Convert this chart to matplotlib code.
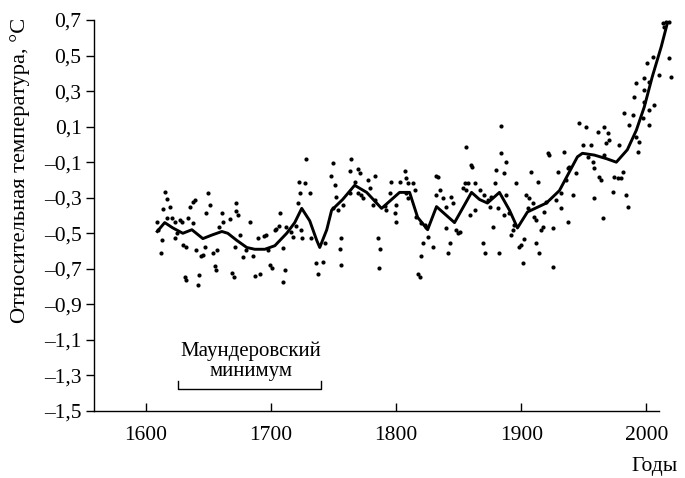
import matplotlib
matplotlib.use("Agg")
import matplotlib.pyplot as plt
import numpy as np

plt.rcParams['font.family'] = ['Liberation Serif', 'DejaVu Serif']

# Smoothed curve (year, relative temperature)
line_years = [1609, 1615, 1621.5, 1629.5, 1636.7, 1645.5, 1652.7, 1660.7, 1665.4, 1672.6,
              1680.6, 1687, 1695, 1703, 1712.5, 1718.9, 1724.5, 1730.9, 1736.5, 1738.9,
              1744.5, 1748.4, 1757.2, 1766.8, 1776.4, 1788.3, 1796.3, 1802.7, 1810.7, 1817.1,
              1825.1, 1832.2, 1846.6, 1860.2, 1866.6, 1872.9, 1882.5, 1890.5, 1896.9, 1904.9,
              1920, 1930.4, 1944.8, 1948.8, 1958.3, 1967.9, 1975.9, 1984.7, 1991.9, 1998.2,
              2004.6, 2011.8, 2016.6]
line_vals = [-0.49, -0.44, -0.47, -0.50, -0.48, -0.53, -0.51, -0.49, -0.50, -0.54,
             -0.58, -0.59, -0.59, -0.57, -0.50, -0.44, -0.36, -0.43, -0.54, -0.58,
             -0.48, -0.37, -0.31, -0.23, -0.27, -0.36, -0.31, -0.27, -0.27, -0.41,
             -0.48, -0.35, -0.44, -0.27, -0.31, -0.33, -0.27, -0.37, -0.47, -0.38,
             -0.33, -0.26, -0.07, -0.05, -0.06, -0.08, -0.10, -0.03, 0.08, 0.21,
             0.38, 0.55, 0.68]

# Annual values (scatter)
pt_years = [1615.2, 1616.5, 1613.8, 1619.1, 1608.5, 1609.8, 1612.5, 1611.7, 1617.0, 1620.5,
            1623.1, 1624.5, 1627.1, 1623.1, 1628.5, 1629.8, 1632.4, 1633.8, 1635.1, 1637.8,
            1639.1, 1637.8, 1649.7, 1651.1, 1648.4, 1640.4, 1644.4, 1645.7, 1642.5, 1641.8,
            1631.1, 1632.4, 1647.1, 1653.7, 1656.4, 1655.1, 1655.9, 1660.4, 1661.2, 1658.5,
            1667.0, 1672.3, 1671.8, 1673.7, 1671.0, 1669.1, 1670.2, 1675.0, 1683.0, 1680.3,
            1677.7, 1685.6, 1689.6, 1687.0, 1691.0, 1695.7, 1694.2, 1697.6, 1698.9, 1701.1,
            1702.9, 1704.3, 1706.9, 1706.4, 1709.6, 1710.9, 1709.6, 1712.2, 1716.2, 1717.6,
            1719.7, 1721.6, 1722.3, 1726.9, 1723.4, 1730.9, 1728.2, 1724.2, 1725.0, 1732.2,
            1736.2, 1737.5,
            1741.5, 1742.9, 1749.5, 1748.2, 1750.8, 1752.2, 1749.5, 1753.5, 1757.5, 1756.2,
            1754.8, 1756.2, 1762.8, 1764.1, 1762.8, 1769.5, 1770.8, 1766.8, 1769.5, 1772.1,
            1777.4, 1782.8, 1778.8, 1773.4, 1782.8, 1781.4, 1785.4, 1786.7, 1786.2, 1790.7,
            1792.1, 1794.7, 1796.1, 1800.0, 1798.7, 1800.0, 1802.7, 1806.7, 1807.5, 1809.4,
            1813.3, 1808.0, 1814.7, 1809.4, 1816.0, 1820.0, 1822.7, 1824.0, 1825.3, 1821.3,
            1820.0, 1817.3, 1818.7, 1829.3, 1831.4, 1833.3, 1834.6, 1832.0, 1837.3, 1839.9,
            1843.9, 1845.3, 1839.9, 1842.6, 1841.3, 1847.9, 1849.3, 1850.6, 1855.9, 1859.9,
            1860.7, 1854.6, 1857.2, 1862.6, 1853.2, 1855.9, 1862.6, 1858.6,
            1866.6, 1869.8, 1873.2, 1875.9, 1874.6, 1869.2, 1870.6, 1877.2, 1879.9, 1878.6,
            1881.2, 1882.5, 1883.9, 1883.9, 1887.9, 1886.5, 1886.5, 1887.9, 1890.5, 1894.5,
            1893.2, 1891.9, 1895.8, 1898.5, 1899.8, 1902.5, 1901.2, 1903.8, 1906.5, 1905.2,
            1907.8, 1909.1, 1911.8, 1913.1, 1910.5, 1911.8, 1914.5, 1917.1, 1915.8, 1918.5,
            1921.1, 1922.4, 1919.8, 1925.1, 1925.1, 1927.8, 1929.1, 1931.8, 1931.8, 1934.4,
            1937.1, 1935.7, 1938.4, 1937.1, 1941.1, 1943.7, 1946.4, 1949.0, 1951.7, 1953.0,
            1955.7, 1957.0, 1958.4, 1958.4, 1961.0, 1962.3, 1963.7, 1965.0, 1966.3, 1967.7,
            1966.3, 1969.0, 1970.3, 1973.0, 1974.3, 1977.0, 1979.6, 1978.3, 1981.0, 1983.6,
            1985.0, 1982.3, 1988.9, 1986.3, 1991.6, 1992.9, 1994.3, 1996.9, 1998.3, 2002.2,
            2002.2, 2006.2,
            2012.8, 2015.5, 2018.2, 2014.2, 2018.2, 2019.5, 2010.2, 2004.9, 2000.1, 1998.2,
            2002.2, 1991.6, 1998.2, 1990.2]
pt_vals = [-0.266, -0.309, -0.365, -0.354, -0.435, -0.482, -0.538, -0.609, -0.416, -0.416,
           -0.435, -0.500, -0.425, -0.529, -0.435, -0.566, -0.576, -0.416, -0.350, -0.322,
           -0.313, -0.444, -0.272, -0.341, -0.384, -0.594, -0.628, -0.622, -0.735, -0.791,
           -0.748, -0.763, -0.576, -0.613, -0.594, -0.684, -0.707, -0.388, -0.435, -0.463,
           -0.422, -0.328, -0.373, -0.397, -0.576, -0.722, -0.744, -0.510, -0.435, -0.594,
           -0.632, -0.628, -0.529, -0.741, -0.729, -0.510, -0.516, -0.594, -0.679, -0.697,
           -0.482, -0.478, -0.384, -0.459, -0.585, -0.707, -0.773, -0.463, -0.491, -0.519,
           -0.459, -0.328, -0.210, -0.215, -0.275, -0.275, -0.084, -0.482, -0.529, -0.529,
           -0.669, -0.729,
           -0.660, -0.557, -0.103, -0.178, -0.228, -0.294, -0.360, -0.369, -0.341, -0.528,
           -0.590, -0.679, -0.275, -0.084, -0.148, -0.140, -0.163, -0.210, -0.275, -0.285,
           -0.200, -0.178, -0.247, -0.303, -0.313, -0.341, -0.528, -0.590, -0.697, -0.346,
           -0.369, -0.275, -0.210, -0.341, -0.388, -0.435, -0.210, -0.148, -0.191, -0.219,
           -0.215, -0.275, -0.256, -0.303, -0.406, -0.444, -0.453, -0.463, -0.519, -0.557,
           -0.628, -0.729, -0.744, -0.575, -0.178, -0.185, -0.256, -0.285, -0.303, -0.350,
           -0.294, -0.328, -0.472, -0.557, -0.613, -0.482, -0.500, -0.491, -0.013, -0.116,
           -0.125, -0.219, -0.219, -0.219, -0.247, -0.256, -0.369, -0.397,
           -0.257, -0.285, -0.313, -0.294, -0.350, -0.557, -0.613, -0.463, -0.144, -0.219,
           -0.360, -0.613, 0.104, -0.050, -0.097, -0.163, -0.397, -0.285, -0.388, -0.453,
           -0.482, -0.510, -0.219, -0.575, -0.566, -0.534, -0.669, -0.285, -0.303, -0.360,
           -0.153, -0.332, -0.557, -0.210, -0.407, -0.425, -0.613, -0.463, -0.482, -0.378,
           -0.050, -0.060, -0.322, -0.472, -0.688, -0.313, -0.153, -0.275, -0.360, -0.041,
           -0.135, -0.200, -0.125, -0.435, -0.285, -0.163, 0.122, -0.003, 0.100, -0.069,
           -0.003, -0.097, -0.135, -0.303, 0.072, -0.181, -0.200, -0.416, 0.100, 0.006,
           -0.060, 0.062, 0.025, -0.266, -0.181, -0.191, -0.191, -0.003, -0.153, -0.285,
           -0.350, 0.175, 0.166, 0.109, 0.044, -0.041, 0.015, 0.147, 0.241, 0.194,
           0.109, 0.222,
           0.681, 0.690, 0.690, 0.662, 0.484, 0.381, 0.390, 0.493, 0.456, 0.371,
           0.353, 0.343, 0.306, 0.268]

x_ticks = [1600, 1700, 1800, 1900, 2000]
y_ticks = [0.7, 0.5, 0.3, 0.1, -0.1, -0.3, -0.5, -0.7, -0.9, -1.1, -1.3, -1.5]
y_tick_labels = [("\u2013" if v < 0 else "") + f"{abs(v):.1f}".replace(".", ",") for v in y_ticks]

maunder_start, maunder_end = 1626, 1740

fig = plt.figure(figsize=(6.85, 4.78), dpi=100)
ax = fig.add_axes([94/685, 1 - 411/478, (659 - 94)/685, (411 - 20)/478])

ax.scatter(pt_years, pt_vals, s=9, color='black', linewidths=0, clip_on=False, zorder=3)
ax.plot(line_years, line_vals, color='black', lw=2.1, clip_on=False, zorder=4)

ax.set_xlim(1558.5, 2010)
ax.set_ylim(-1.5, 0.7)
ax.set_xticks(x_ticks)
ax.set_xticklabels([str(t) for t in x_ticks])
ax.set_yticks(y_ticks)
ax.set_yticklabels(y_tick_labels)

for s in ['top', 'right']:
    ax.spines[s].set_visible(False)
for s in ['left', 'bottom']:
    ax.spines[s].set_linewidth(1.0)

ax.tick_params(axis='x', direction='in', length=6, width=1, labelsize=15.5, pad=11)
ax.tick_params(axis='y', direction='out', length=6, width=1, labelsize=15.5, pad=3)

# Maunder minimum bracket
by, bt = -1.377, -1.33
ax.plot([maunder_start, maunder_start, maunder_end, maunder_end], [bt, by, by, bt],
        color='black', lw=1.0)
ax.text((maunder_start + maunder_end) / 2 + 1, -1.305, "Маундеровский\nминимум",
        ha='center', va='baseline', fontsize=15, linespacing=1.08)

fig.text(20/685, 1 - 18/478, "Относительная температура, °C", rotation=90,
         ha='center', va='top', fontsize=16.2)
fig.text(655/685, 1 - 467/478, "Годы", ha='center', va='center', fontsize=15.5)

fig.savefig("out.png", dpi=100)
